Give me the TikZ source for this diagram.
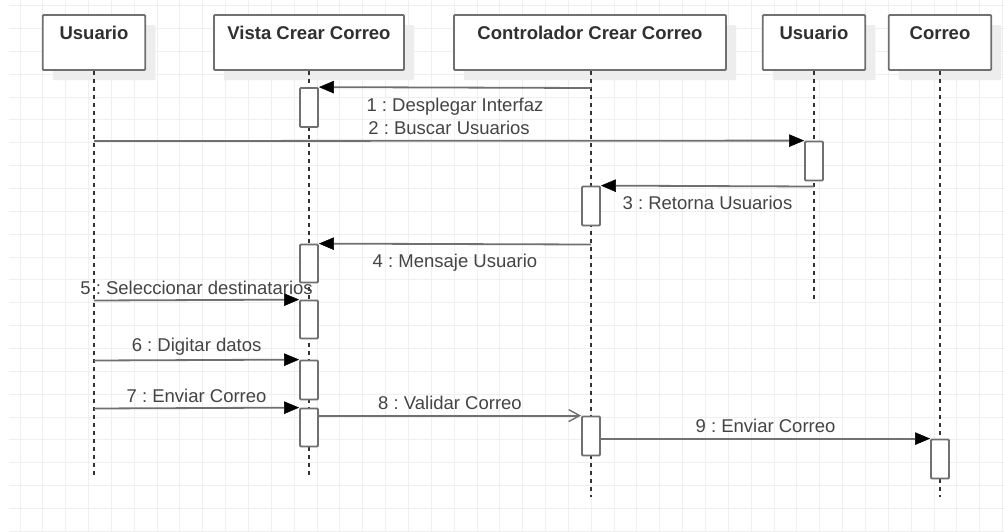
\documentclass[tikz,border=0pt]{standalone}
\usepackage{fontspec}
\setmainfont{Liberation Sans}
\frenchspacing
\usetikzlibrary{arrows.meta,shadows,calc}
\definecolor{gridc}{HTML}{EFEFEF}
\definecolor{boxc}{HTML}{707070}
\definecolor{linec}{HTML}{707070}
\definecolor{lifec}{HTML}{333333}
\definecolor{txtc}{HTML}{444444}
\definecolor{hdrc}{HTML}{303030}
\definecolor{shc}{HTML}{EDEDED}
\begin{document}
\begin{tikzpicture}[x=1pt,y=-1pt,
  hdr/.style={draw=boxc, line width=1.8pt, fill=white, minimum height=55pt, inner sep=0pt, rounded corners=1pt,
    general shadow={fill=shc, shadow xshift=10pt, shadow yshift=-10pt}},
  hdrtxt/.style={anchor=base, inner sep=0pt, text=hdrc, font=\bfseries\fontsize{18.5}{20}\selectfont},
  act/.style={draw=boxc, line width=1.8pt, fill=white, minimum width=18pt, inner sep=0pt, rounded corners=1pt},
  life/.style={draw=lifec, line width=1.3pt, dash pattern=on 4pt off 4pt},
  msg/.style={draw=linec, line width=1.8pt, -{Triangle[length=15pt,width=12.5pt,color=black,line width=0.5pt]}},
  amsg/.style={draw=linec, line width=1.8pt, -{Straight Barb[length=11pt,width=12pt,line width=1.4pt]}},
  lbl/.style={anchor=base, inner sep=0pt, text=txtc, font=\fontsize{18.5}{20}\selectfont},
  lblup/.style={lbl, yshift=6pt},
  lbldown/.style={lbl, yshift=-23.5pt}
]
\useasboundingbox (0,0) rectangle (1004,531);
\fill[white] (0,0) rectangle (1004,531);
% grid
\foreach \gx in {0,...,43} {\draw[gridc, line width=1pt] (20+\gx*22.85,0) -- (20+\gx*22.85,531);}
\foreach \gy in {0,...,23} {\draw[gridc, line width=1pt] (9,5.7+\gy*22.85) -- (1004,5.7+\gy*22.85);}

% header boxes
\node[hdr, minimum width=102.5pt] (u1) at (94,42.5) {};
\node[hdr, minimum width=190pt] (v) at (309,42.5) {};
\node[hdr, minimum width=272pt] (c) at (590,42.5) {};
\node[hdr, minimum width=102.5pt] (u2) at (814,42.5) {};
\node[hdr, minimum width=102.5pt] (co) at (940,42.5) {};
\node[hdrtxt] (u1t) at (94,39.5) {Usuario};
\node[hdrtxt] (vt) at (309,39.5) {Vista Crear Correo};
\node[hdrtxt] (ct) at (590,39.5) {Controlador Crear Correo};
\node[hdrtxt] (u2t) at (814,39.5) {Usuario};
\node[hdrtxt] (cot) at (940,39.5) {Correo};

% lifeline ends
\coordinate (u1e) at (94,478);
\coordinate (ve) at (309,478);
\coordinate (ce) at (591,497);
\coordinate (u2e) at (814,300);
\coordinate (coe) at (940,497);
\draw[life] (u1.south) -- (u1e);
\draw[life] (v.south) -- (ve);
\draw[life] (c.south -| ce) -- (ce);
\draw[life] (u2.south) -- (u2e);
\draw[life] (co.south) -- (coe);

% activations
\node[act, minimum height=39pt] (va1) at (309,107.5) {};
\node[act, minimum height=39pt] (u2a) at (814,161) {};
\node[act, minimum height=39pt] (ca1) at (591,206) {};
\node[act, minimum height=38pt] (va2) at (309,263.5) {};
\node[act, minimum height=38pt] (va3) at (309,319.5) {};
\node[act, minimum height=39pt] (va4) at (309,380) {};
\node[act, minimum height=38pt] (va5) at (309,427.5) {};
\node[act, minimum height=39pt] (ca2) at (591,436) {};
\node[act, minimum height=39pt] (coa) at (940,459) {};

% message start points
\coordinate (m1s) at (591,88);
\coordinate (m2s) at (94,141);
\coordinate (m3s) at (814,186.5);
\coordinate (m4s) at (591,244.5);
\coordinate (m5s) at (94,300.5);
\coordinate (m6s) at (94,360.5);
\coordinate (m7s) at (94,408.5);

\draw[msg] (m1s) -- (va1.north east) node[midway, lbldown] {1 : Desplegar Interfaz};
\draw[msg] (m2s) -- (u2a.north west) node[midway, lblup] {2 : Buscar Usuarios};
\draw[msg] (m3s) -- (ca1.north east) node[midway, lbldown] {3 : Retorna Usuarios};
\draw[msg] (m4s) -- (va2.north east) node[midway, lbldown] {4 : Mensaje Usuario};
\draw[msg] (m5s) -- (va3.north west) node[midway, lblup] {5 : Seleccionar destinatarios};
\draw[msg] (m6s) -- (va4.north west) node[midway, lbl, yshift=8.5pt] {6 : Digitar datos};
\draw[msg] (m7s) -- (va5.north west) node[midway, lblup] {7 : Enviar Correo};
\draw[amsg] (va5.east |- ca2.north west) -- (ca2.north west) node[midway, lblup] {8 : Validar Correo};
\draw[msg] (ca2.east |- coa.north west) -- (coa.north west) node[midway, lblup] {9 : Enviar Correo};
\end{tikzpicture}
\end{document}
